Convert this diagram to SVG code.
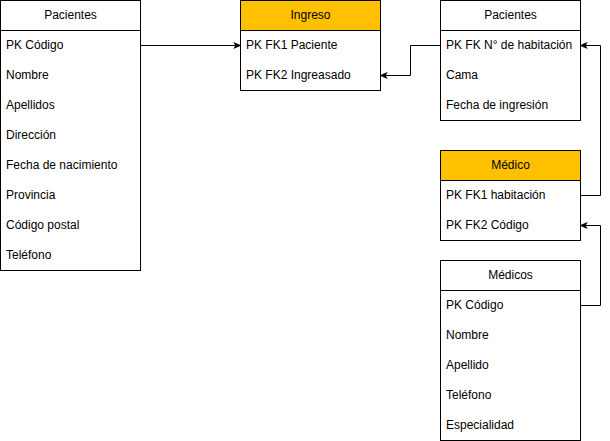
<svg xmlns="http://www.w3.org/2000/svg" width="610" height="441" viewBox="0 0 610 441">
<defs>
<style>
.box{fill:#ffffff;stroke:#000000;stroke-width:1}
.hdr{fill:#ffffff;stroke:#000000;stroke-width:1}
.hdr.y{fill:#ffc000}
text{font-family:"Liberation Sans",Arial,sans-serif;font-size:12px;fill:#000000}
.t{text-anchor:middle}
.c{fill:none;stroke:#000000;stroke-width:1}
</style>
<marker id="arr" viewBox="0 0 10 10" refX="9" refY="5" markerWidth="8" markerHeight="8" markerUnits="userSpaceOnUse" orient="auto">
<path d="M0,0.5 L10,5 L0,9.5 L2.5,5 Z" fill="#000"/>
</marker>
</defs>
<rect width="610" height="441" fill="#ffffff"/>
<g id="pacientes1">
<rect class="box" x="0.5" y="0.5" width="140" height="270"/>
<line class="c" x1="0.5" y1="30.5" x2="140.5" y2="30.5"/>
<text class="t" x="70.5" y="18.5">Pacientes</text>
<text x="6" y="48.5">PK Código</text>
<text x="6" y="78.5">Nombre</text>
<text x="6" y="108.5">Apellidos</text>
<text x="6" y="138.5">Dirección</text>
<text x="6" y="168.5">Fecha de nacimiento</text>
<text x="6" y="198.5">Provincia</text>
<text x="6" y="228.5">Código postal</text>
<text x="6" y="258.5">Teléfono</text>
</g>
<g id="ingreso">
<rect class="box" x="240.5" y="0.5" width="140" height="90"/>
<rect class="hdr y" x="240.5" y="0.5" width="140" height="30"/>
<text class="t" x="310.5" y="18.5">Ingreso</text>
<text x="246" y="48.5">PK FK1 Paciente</text>
<text x="246" y="78.5">PK FK2 Ingreasado</text>
</g>
<g id="pacientes2">
<rect class="box" x="440.5" y="0.5" width="140" height="120"/>
<line class="c" x1="440.5" y1="30.5" x2="580.5" y2="30.5"/>
<text class="t" x="510.5" y="18.5">Pacientes</text>
<text x="446" y="48.5">PK FK N° de habitación</text>
<text x="446" y="78.5">Cama</text>
<text x="446" y="108.5">Fecha de ingresión</text>
</g>
<g id="medico">
<rect class="box" x="440.5" y="150.5" width="140" height="90"/>
<rect class="hdr y" x="440.5" y="150.5" width="140" height="30"/>
<text class="t" x="510.5" y="168.5">Médico</text>
<text x="446" y="198.5">PK FK1 habitación</text>
<text x="446" y="228.5">PK FK2 Código</text>
</g>
<g id="medicos">
<rect class="box" x="440.5" y="260.5" width="140" height="180"/>
<line class="c" x1="440.5" y1="290.5" x2="580.5" y2="290.5"/>
<text class="t" x="510.5" y="278.5">Médicos</text>
<text x="446" y="308.5">PK Código</text>
<text x="446" y="338.5">Nombre</text>
<text x="446" y="368.5">Apellido</text>
<text x="446" y="398.5">Teléfono</text>
<text x="446" y="428.5">Especialidad</text>
</g>
<g id="connectors">
<path class="c" d="M140.5,45.5 L240.5,45.5" marker-end="url(#arr)"/>
<path class="c" d="M440.5,45.5 L410.5,45.5 L410.5,75.5 L380.5,75.5" marker-end="url(#arr)"/>
<path class="c" d="M580.5,195.5 L600.5,195.5 L600.5,45.5 L580.5,45.5" marker-end="url(#arr)"/>
<path class="c" d="M580.5,305.5 L600.5,305.5 L600.5,225.5 L580.5,225.5" marker-end="url(#arr)"/>
</g>
</svg>
